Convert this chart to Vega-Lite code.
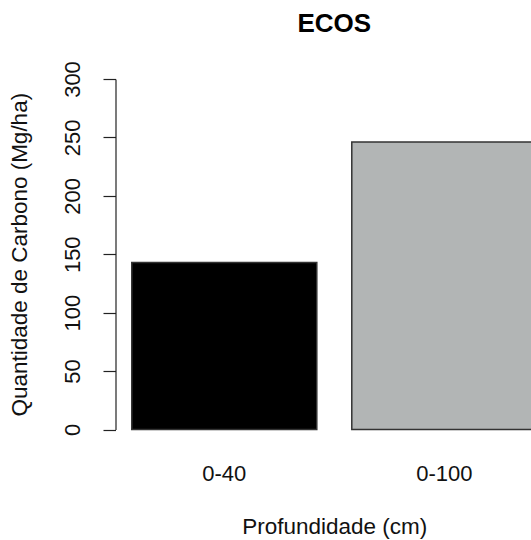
{
  "$schema": "https://vega.github.io/schema/vega-lite/v6.json",
  "autosize": "none",
  "width": 437.6,
  "height": 350.5,
  "padding": {"left": 115.5, "top": 79, "right": 0, "bottom": 110.5},
  "background": "white",
  "config": {
    "view": {"stroke": null},
    "font": "Liberation Sans"
  },
  "title": {
    "text": "ECOS",
    "font": "Liberation Sans",
    "fontSize": 26,
    "fontWeight": "bold",
    "color": "#000000",
    "anchor": "middle",
    "baseline": "alphabetic",
    "offset": 3
  },
  "data": {
    "values": [
      {"profundidade": "0-40", "carbono": 143},
      {"profundidade": "0-100", "carbono": 246}
    ]
  },
  "mark": {"type": "bar", "stroke": "#333333", "strokeWidth": 1.5},
  "encoding": {
    "x": {
      "field": "profundidade",
      "type": "nominal",
      "sort": ["0-40", "0-100"],
      "scale": {"paddingInner": 0.159, "paddingOuter": 0.074},
      "axis": {
        "title": "Profundidade (cm)",
        "labelAngle": 0,
        "domain": false,
        "ticks": false,
        "tickSize": 0,
        "labelFont": "Liberation Sans",
        "labelFontSize": 22,
        "labelColor": "#111111",
        "labelBaseline": "alphabetic",
        "labelPadding": 51,
        "titleFont": "Liberation Sans",
        "titleFontSize": 22.5,
        "titleFontWeight": "normal",
        "titleColor": "#111111",
        "titleBaseline": "alphabetic",
        "titleY": 104.5
      }
    },
    "y": {
      "field": "carbono",
      "type": "quantitative",
      "scale": {"domain": [0, 300], "nice": false, "zero": true},
      "axis": {
        "title": "Quantidade de Carbono (Mg/ha)",
        "values": [0, 50, 100, 150, 200, 250, 300],
        "grid": false,
        "domain": true,
        "domainColor": "#222222",
        "domainWidth": 1.2,
        "tickColor": "#222222",
        "tickWidth": 1.2,
        "tickSize": 12.5,
        "labelAngle": 270,
        "labelAlign": "center",
        "labelBaseline": "alphabetic",
        "labelPadding": 23,
        "labelFont": "Liberation Sans",
        "labelFontSize": 22,
        "labelColor": "#111111",
        "titleFont": "Liberation Sans",
        "titleFontSize": 22.5,
        "titleFontWeight": "normal",
        "titleColor": "#111111",
        "titleAngle": 270,
        "titleBaseline": "alphabetic",
        "titleX": -88.5
      }
    },
    "color": {
      "field": "profundidade",
      "type": "nominal",
      "scale": {"domain": ["0-40", "0-100"], "range": ["#000000", "#b2b5b5"]},
      "legend": null
    }
  }
}
